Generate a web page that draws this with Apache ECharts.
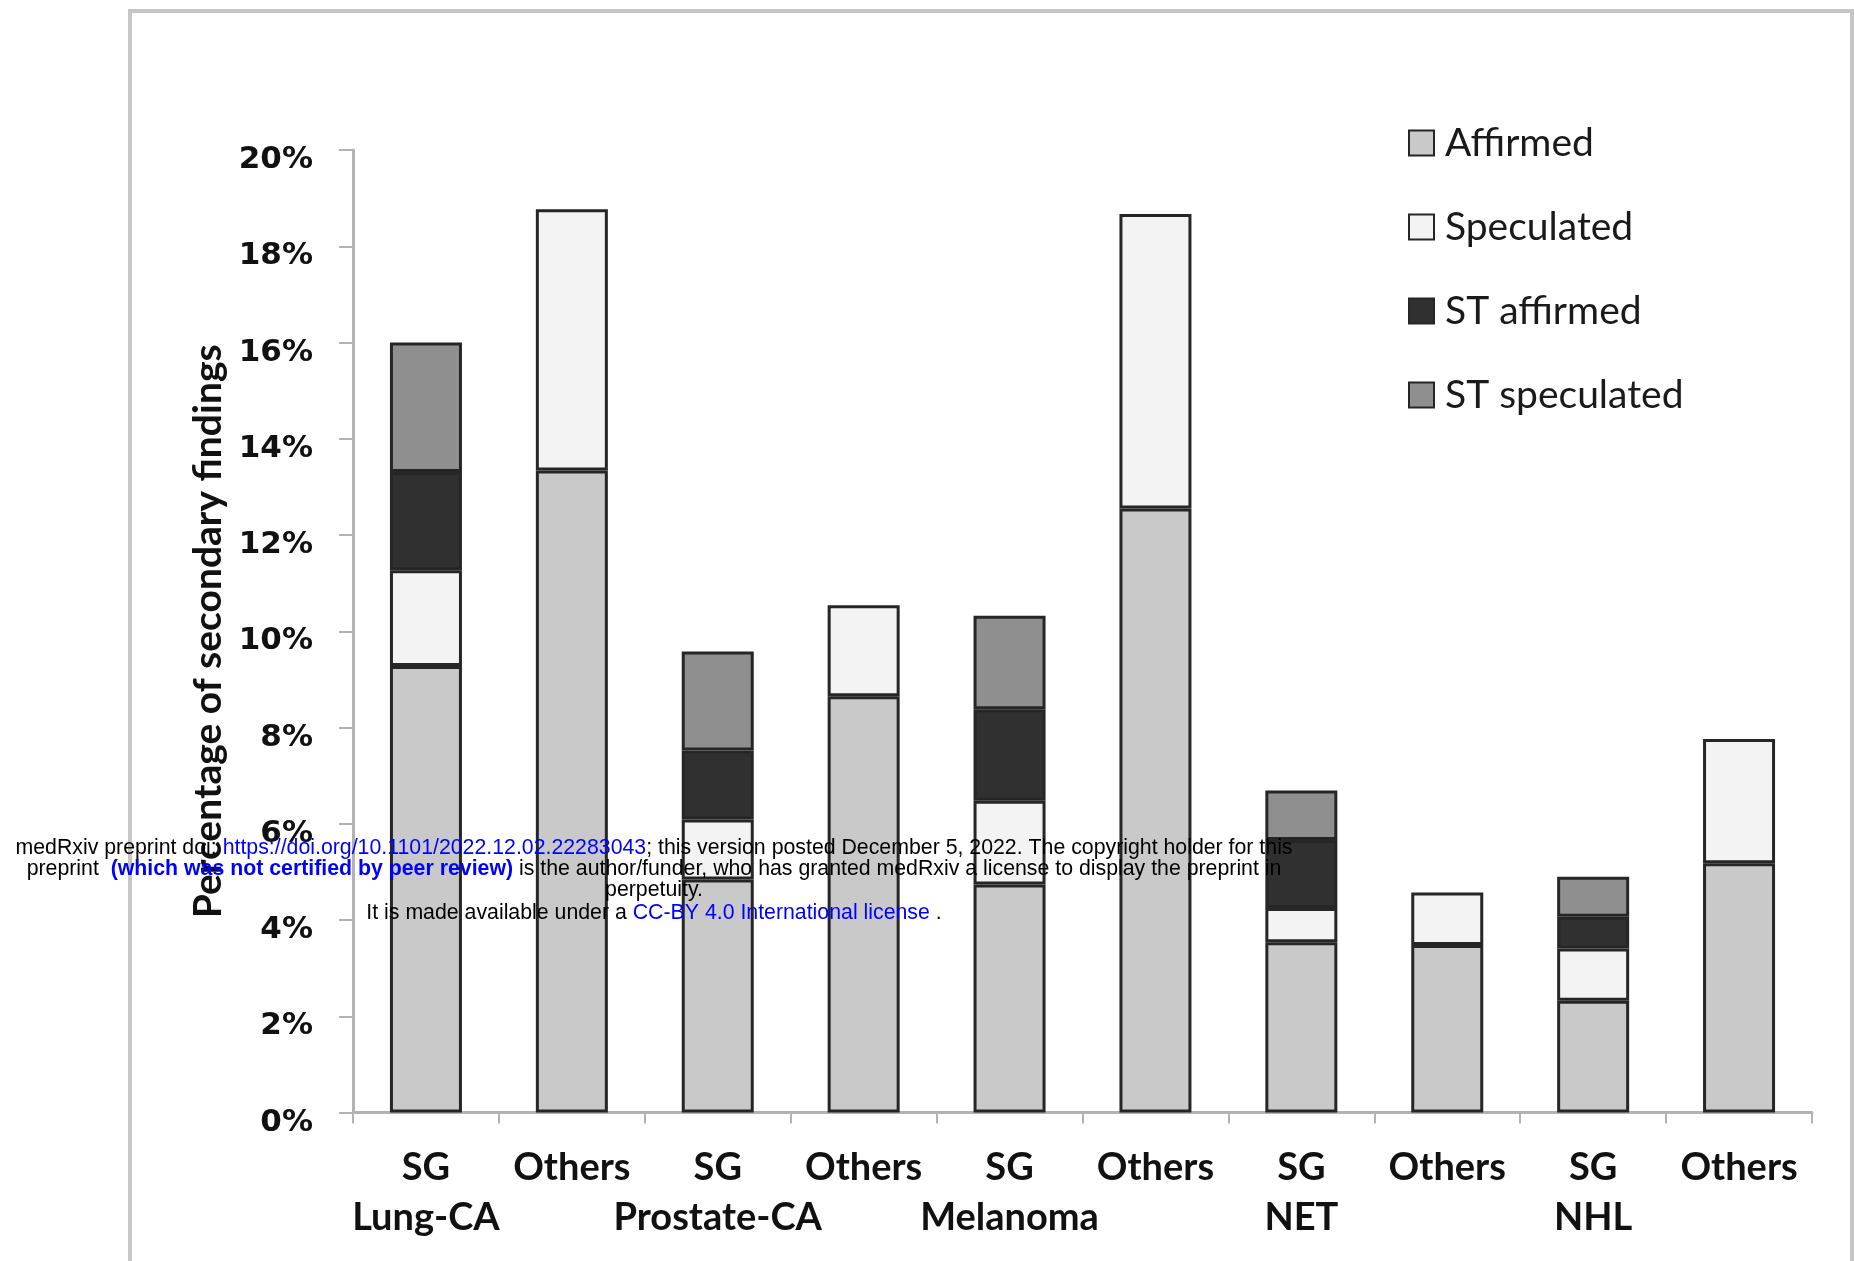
<!DOCTYPE html>
<html>
<head>
<meta charset="utf-8">
<script src="https://cdn.jsdelivr.net/npm/echarts@6/dist/echarts.min.js"></script>
<style>
html,body{margin:0;padding:0;background:#fff;}
#chart{width:1854px;height:1261px;}
</style>
</head>
<body>
<div id="chart"></div>
<script>
const categories = ['SG\nLung-CA', 'Others', 'SG\nProstate-CA', 'Others', 'SG\nMelanoma', 'Others', 'SG\nNET', 'Others', 'SG\nNHL', 'Others'];
const seriesNames = ['Affirmed', 'Speculated', 'ST affirmed', 'ST speculated'];
const affirmed     = [9.28, 13.34, 4.84, 8.65, 4.74, 12.55, 3.54, 3.48, 2.32, 5.18];
const speculated   = [1.99, 5.43, 1.25, 1.89, 1.74, 6.12, 0.71, 1.09, 1.09, 2.58];
const stAffirmed   = [2.04, null, 1.43, null, 1.90, null, 1.41, null, 0.66, null];
const stSpeculated = [2.69, null, 2.06, null, 1.94, null, 1.03, null, 0.83, null];
const yTicks = { min: 0, max: 20, interval: 2 };

const fills = ['#c9c9c9', '#f3f3f3', '#303030', '#8f8f8f'];
const values = [affirmed, speculated, stAffirmed, stSpeculated];
const human = "Lato, 'Open Sans', sans-serif";
const arial = "'Liberation Sans', Arial, sans-serif";
const wm = 21.3;

const chart = echarts.init(document.getElementById('chart'), null, { renderer: 'canvas' });
chart.setOption({
  backgroundColor: '#ffffff',
  animation: false,
  grid: { left: 353, right: 42, top: 150, bottom: 148.5, containLabel: false },
  legend: {
    orient: 'vertical',
    left: 1403,
    top: 118,
    itemWidth: 25,
    itemHeight: 25,
    itemGap: 44,
    icon: 'rect',
    data: seriesNames,
    textStyle: { fontFamily: human, fontSize: 39, color: '#1a1a1a', lineHeight: 40, padding: [0, 0, 0, 6] }
  },
  xAxis: {
    type: 'category',
    data: categories,
    axisLine: { show: true, lineStyle: { color: '#b3b3b3', width: 3 } },
    axisTick: { show: true, length: 11, lineStyle: { color: '#b3b3b3', width: 2 } },
    axisLabel: {
      interval: 0,
      margin: 30,
      fontFamily: human,
      fontWeight: 'bold',
      fontSize: 38,
      lineHeight: 50,
      color: '#111'
    }
  },
  yAxis: {
    type: 'value',
    min: yTicks.min, max: yTicks.max, interval: yTicks.interval,
    name: 'Percentage of secondary findings',
    nameLocation: 'middle',
    nameGap: 120,
    nameTextStyle: { fontFamily: human, fontWeight: 'bold', fontSize: 39, color: '#111' },
    splitLine: { show: false },
    axisLine: { show: true, lineStyle: { color: '#b3b3b3', width: 3 } },
    axisTick: { show: true, length: 14, lineStyle: { color: '#b3b3b3', width: 2 } },
    axisLabel: {
      margin: 40,
      formatter: '{value}%',
      fontFamily: "'DejaVu Sans', Verdana, sans-serif",
      fontWeight: 'bold',
      fontSize: 31,
      verticalAlign: 'top',
      lineHeight: 20,
      color: '#111'
    }
  },
  series: seriesNames.map((name, i) => ({
    name: name,
    type: 'bar',
    stack: 'total',
    barWidth: 72,
    data: values[i],
    itemStyle: { color: fills[i], borderColor: '#262626', borderWidth: 3 }
  })),
  graphic: [
    {
      type: 'rect', silent: true, z: -10,
      shape: { x: 130, y: 11, width: 1722, height: 1260 },
      style: { fill: 'none', stroke: '#c6c6c6', lineWidth: 4 }
    },
    {
      type: 'text', z: 100,
      style: {
        x: 654, y: 848, align: 'center', verticalAlign: 'middle',
        text: '{k|medRxiv preprint doi: }{b|https://doi.org/10.1101/2022.12.02.22283043}{k|; this version posted December 5, 2022. The copyright holder for this}',
        rich: {
          k: { fontFamily: arial, fontSize: wm, fill: '#000' },
          b: { fontFamily: arial, fontSize: wm, fill: '#0000ff' }
        }
      }
    },
    {
      type: 'text', z: 100,
      style: {
        x: 654, y: 869, align: 'center', verticalAlign: 'middle',
        text: '{k|preprint  }{bb|(which was not certified by peer review)}{k| is the author/funder, who has granted medRxiv a license to display the preprint in}',
        rich: {
          k: { fontFamily: arial, fontSize: wm, fill: '#000' },
          bb: { fontFamily: arial, fontSize: wm, fontWeight: 'bold', fill: '#0000ff' }
        }
      }
    },
    {
      type: 'text', z: 100,
      style: {
        x: 654, y: 890, align: 'center', verticalAlign: 'middle',
        text: 'perpetuity.',
        fontFamily: arial, fontSize: wm, fill: '#000'
      }
    },
    {
      type: 'text', z: 100,
      style: {
        x: 654, y: 913, align: 'center', verticalAlign: 'middle',
        text: '{k|It is made available under a }{b|CC-BY 4.0 International license}{k| .}',
        rich: {
          k: { fontFamily: arial, fontSize: wm, fill: '#000' },
          b: { fontFamily: arial, fontSize: wm, fill: '#0000ff' }
        }
      }
    }
  ]
});
</script>
</body>
</html>
